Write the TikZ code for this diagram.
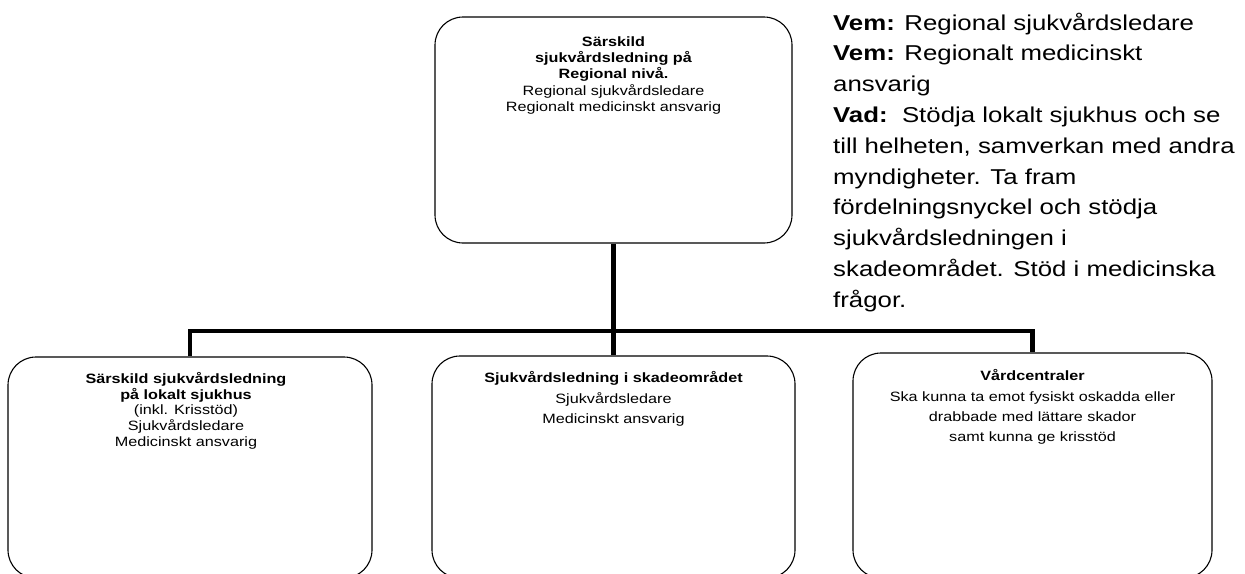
\documentclass[tikz,border=0pt]{standalone}
\usepackage{fontspec}
\setmainfont{Liberation Sans}[FakeStretch=1.2]
\begin{document}
\begin{tikzpicture}[x=1pt,y=-1pt,
  box/.style={draw, line width=1.1pt, rounded corners=28pt, inner sep=0pt},
  conn/.style={line width=4.2pt},
  boxtext/.style={align=center, anchor=north, inner sep=0pt},
  toptight/.style={font=\fontsize{13.5}{16.2}\selectfont},
  tight/.style={font=\fontsize{13.5}{15.6}\selectfont},
  loose/.style={font=\fontsize{13.5}{20.3}\selectfont}]
\useasboundingbox (0,0) rectangle (1245,573);
\clip (0,0) rectangle (1245,573);
% boxes
\node[box, minimum width=357pt, minimum height=226pt] (top) at (613.5,130) {};
\node[box, minimum width=364pt, minimum height=221pt] (left) at (190,467.5) {};
\node[box, minimum width=363pt, minimum height=222pt] (mid) at (613.5,467) {};
\node[box, minimum width=359pt, minimum height=225pt] (right) at (1032.5,465.5) {};
% texts
\node[boxtext, toptight] (toptext) at ([yshift=-20pt]top.north)
  {\textbf{Särskild}\\ \textbf{sjukvårdsledning på}\\ \textbf{Regional nivå.}\\
   Regional sjukvårdsledare\\ Regionalt medicinskt ansvarig};
\node[boxtext, tight] (lefttext) at ([xshift=-4pt,yshift=-16pt]left.north)
  {\textbf{Särskild sjukvårdsledning}\\ \textbf{på lokalt sjukhus}\\ (inkl. Krisstöd)\\
   Sjukvårdsledare\\ Medicinskt ansvarig};
\node[boxtext, loose] (midtext) at ([yshift=-16pt]mid.north)
  {\textbf{Sjukvårdsledning i skadeområdet}\\ Sjukvårdsledare\\ Medicinskt ansvarig};
\node[boxtext, loose] (righttext) at ([yshift=-17pt]right.north)
  {\textbf{Vårdcentraler}\\ Ska kunna ta emot fysiskt oskadda eller\\
   drabbade med lättare skador\\ samt kunna ge krisstöd};
\node[anchor=north west, align=left, inner sep=0pt,
      font=\fontsize{21.5}{30.8}\selectfont] (side) at (833,12.5)
  {\textbf{Vem:} Regional sjukvårdsledare\\
   \textbf{Vem:} Regionalt medicinskt\\
   ansvarig\\
   \textbf{Vad:}\ \ Stödja lokalt sjukhus och se\\
   till helheten, samverkan med andra\\
   myndigheter. Ta fram\\
   fördelningsnyckel och stödja\\
   sjukvårdsledningen i\\
   skadeområdet. Stöd i medicinska\\
   frågor.};
% connectors
\coordinate (bus) at (613.5,331);
\draw[conn] (top.south) -- (mid.north);
\draw[conn] (left.north) |- (bus) -| (right.north);
\end{tikzpicture}
\end{document}
